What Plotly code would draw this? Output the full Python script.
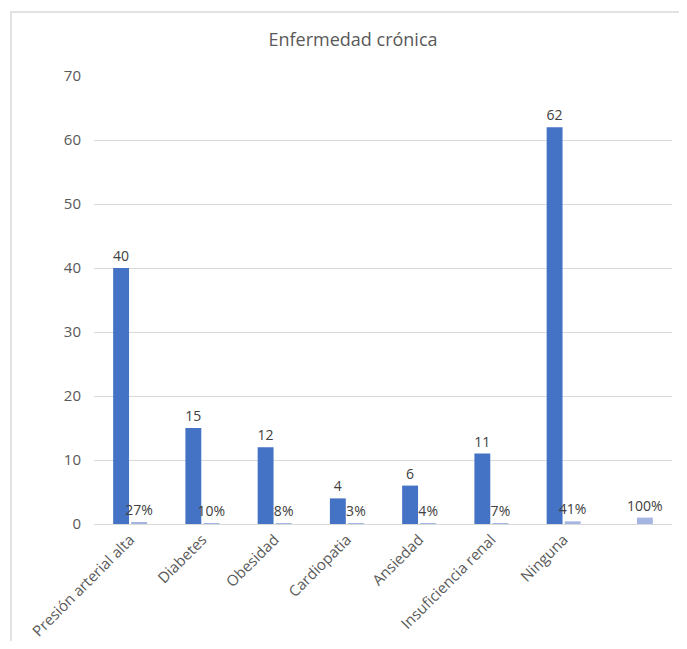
import plotly.graph_objects as go

categories = ["Presión arterial alta", "Diabetes", "Obesidad", "Cardiopatia",
              "Ansiedad", "Insuficiencia renal", "Ninguna", " "]
counts = [40, 15, 12, 4, 6, 11, 62, None]
shares = [0.27, 0.10, 0.08, 0.03, 0.04, 0.07, 0.41, 1.00]
share_labels = ["27%", "10%", "8%", "3%", "4%", "7%", "41%", "100%"]
count_labels = ["40", "15", "12", "4", "6", "11", "62", ""]

FONT = "Open Sans"
LBL = dict(family=FONT, size=14, color="#404040")
fig = go.Figure()
fig.add_trace(go.Bar(
    x=categories, y=counts, name="Frecuencia",
    marker=dict(color="#4472C4", line=dict(width=0)),
    text=count_labels, textposition="outside", cliponaxis=False,
    constraintext="none", textfont=LBL,
))
fig.add_trace(go.Bar(
    x=categories, y=shares, name="Porcentaje",
    marker=dict(color="#A4B5E2", line=dict(width=0)),
    text=share_labels, textposition="outside", cliponaxis=False,
    constraintext="none", textfont=LBL,
))

# page has an 8px body margin: figure coords = page coords - 8
W, H = 679, 633
L, T = 86, 68
R = W - 664
B = H - 516
pw, ph = W - L - R, H - T - B
x0 = (3 - L) / pw
y1 = (516 - 4) / ph

fig.update_layout(
    width=W, height=H,
    margin=dict(l=L, r=R, t=T, b=B),
    paper_bgcolor="white", plot_bgcolor="white",
    barmode="group", bargap=0.5, bargroupgap=0.12,
    showlegend=False,
    title=dict(text="Enfermedad crónica", x=345 / W, xref="container", xanchor="center",
               y=1 - 32 / H, yref="container", yanchor="middle",
               font=dict(family=FONT, size=18, color="#595959")),
    font=dict(family=FONT, size=14, color="#595959"),
    shapes=[dict(type="rect", xref="paper", yref="paper",
                 x0=x0, x1=1.2, y0=-0.5, y1=y1,
                 line=dict(color="#D9D9D9", width=1.5), fillcolor="rgba(0,0,0,0)",
                 layer="below")],
)
fig.update_xaxes(
    tickangle=-45, showgrid=False, showline=True, linecolor="#D9D9D9", linewidth=1,
    tickfont=dict(family=FONT, size=15, color="#595959"), ticks="",
    automargin=False,
)
fig.update_yaxes(
    range=[0, 70], dtick=10, showgrid=True, gridcolor="#D9D9D9", gridwidth=1,
    zeroline=False, showline=False, ticks="", automargin=False,
    tickfont=dict(family=FONT, size=15, color="#595959"), ticklabelstandoff=12,
)

fig.write_html("out.html")
